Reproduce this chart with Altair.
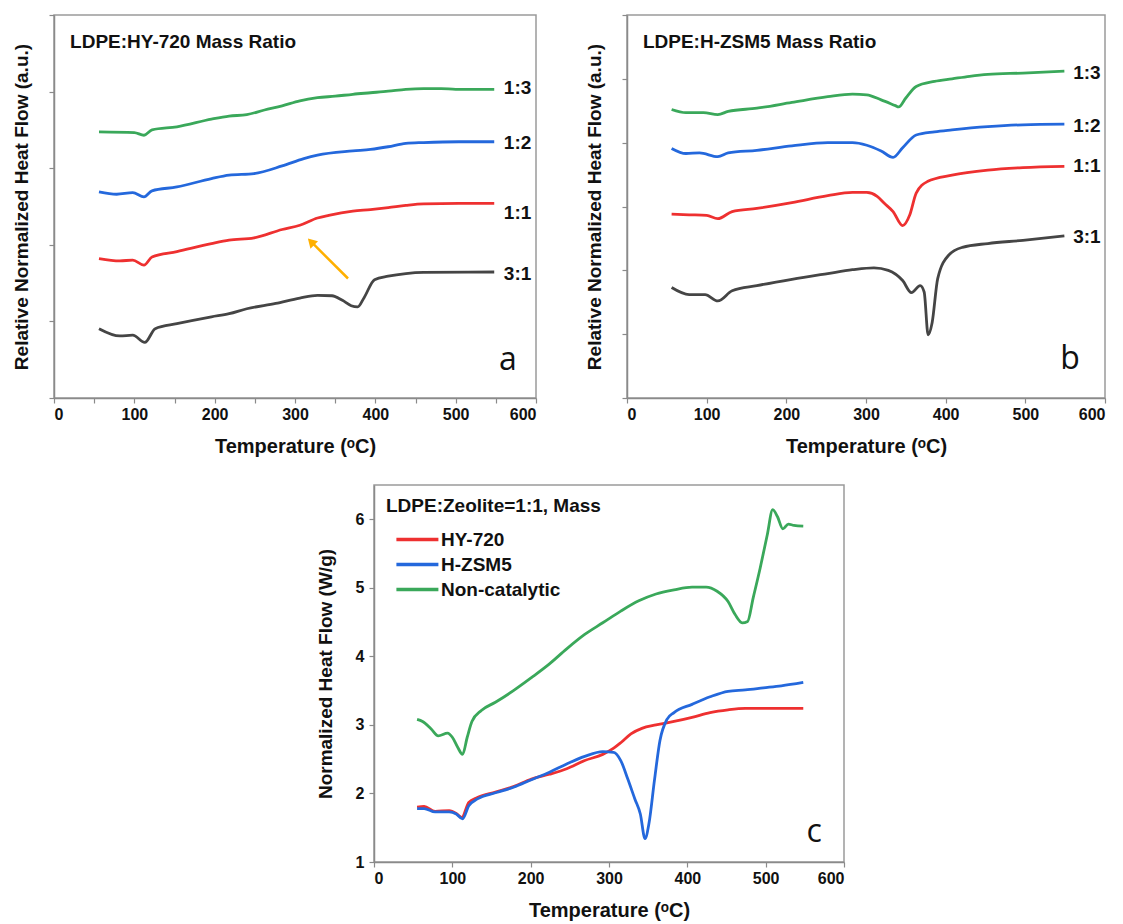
import altair as alt
import pandas as pd

FONT = "Liberation Sans"
GREEN, BLUE, RED, GRAY = "#3aa85a", "#2468dc", "#ee3030", "#454545"

# ---------------- Panel a : LDPE:HY-720 ----------------
a_green_T = [56, 100, 112, 122, 153, 196, 218, 240, 262, 284, 306, 328, 350, 372, 394, 416, 438, 460, 482, 500, 548]
a_green_v = [6.95, 6.93, 6.86, 7.00, 7.08, 7.28, 7.36, 7.40, 7.52, 7.63, 7.76, 7.84, 7.88, 7.93, 7.97, 8.01, 8.06, 8.08, 8.08, 8.06, 8.06]
a_blue_T = [56, 78, 98, 112, 122, 153, 196, 218, 249, 284, 311, 328, 372, 394, 416, 438, 460, 504, 548]
a_blue_v = [5.38, 5.32, 5.36, 5.25, 5.41, 5.51, 5.73, 5.82, 5.86, 6.06, 6.25, 6.34, 6.45, 6.49, 6.56, 6.65, 6.67, 6.69, 6.69]
a_red_T = [56, 82, 98, 112, 122, 153, 196, 218, 249, 284, 306, 328, 342, 372, 394, 416, 438, 460, 504, 548]
a_red_v = [3.64, 3.58, 3.60, 3.47, 3.68, 3.82, 4.03, 4.12, 4.18, 4.40, 4.51, 4.70, 4.77, 4.88, 4.92, 4.97, 5.03, 5.07, 5.08, 5.08]
a_black_T = [56, 82, 98, 113, 126, 153, 196, 218, 240, 276, 306, 328, 346, 359, 370, 378, 386, 399, 416, 438, 460, 548]
a_black_v = [1.81, 1.62, 1.64, 1.45, 1.81, 1.94, 2.12, 2.20, 2.33, 2.47, 2.61, 2.68, 2.67, 2.55, 2.41, 2.38, 2.62, 3.09, 3.18, 3.25, 3.28, 3.29]
a_label_v = [8.10, 6.65, 4.82, 3.25]

# ---------------- Panel b : LDPE:H-ZSM5 ----------------
b_green_T = [56, 74, 96, 114, 127, 163, 207, 252, 283, 301, 319, 337, 341, 350, 363, 386, 408, 430, 453, 497, 549]
b_green_v = [4.52, 4.47, 4.47, 4.44, 4.49, 4.54, 4.63, 4.72, 4.76, 4.75, 4.67, 4.58, 4.56, 4.70, 4.88, 4.96, 5.00, 5.04, 5.07, 5.09, 5.12]
b_blue_T = [56, 74, 91, 114, 127, 163, 207, 252, 283, 301, 319, 334, 346, 363, 386, 408, 453, 497, 549]
b_blue_v = [3.91, 3.83, 3.84, 3.78, 3.84, 3.88, 3.95, 4.00, 4.00, 3.96, 3.87, 3.77, 3.92, 4.12, 4.17, 4.20, 4.25, 4.28, 4.29]
b_red_T = [56, 78, 100, 114, 132, 163, 207, 252, 283, 301, 314, 323, 334, 346, 355, 363, 377, 408, 453, 497, 549]
b_red_v = [2.88, 2.87, 2.86, 2.81, 2.92, 2.97, 3.06, 3.17, 3.22, 3.22, 3.16, 3.05, 2.92, 2.70, 2.87, 3.21, 3.39, 3.49, 3.57, 3.61, 3.63]
b_black_T = [56, 78, 98, 114, 132, 163, 207, 252, 283, 310, 328, 346, 357, 368, 373, 378, 383, 390, 404, 421, 453, 497, 549]
b_black_v = [1.73, 1.62, 1.62, 1.52, 1.68, 1.76, 1.86, 1.95, 2.01, 2.04, 2.00, 1.84, 1.65, 1.76, 1.66, 0.99, 1.18, 1.87, 2.24, 2.36, 2.42, 2.47, 2.54]
b_label_v = [5.09, 4.26, 3.63, 2.53]

ratios = ["1:3", "1:2", "1:1", "3:1"]

# ---------------- Panel c : LDPE:Zeolite = 1:1 ----------------
c_red_T = [55, 64, 78, 96, 105, 112, 121, 132, 155, 178, 201, 224, 246, 269, 292, 306, 315, 328, 342, 360, 383, 406, 429, 452, 474, 548]
c_red_v = [1.80, 1.81, 1.74, 1.75, 1.71, 1.65, 1.87, 1.94, 2.02, 2.10, 2.21, 2.28, 2.36, 2.48, 2.57, 2.66, 2.74, 2.87, 2.95, 3.00, 3.05, 3.11, 3.18, 3.22, 3.24, 3.24]
c_blue_T = [55, 64, 78, 96, 105, 113, 121, 132, 155, 178, 201, 224, 246, 269, 292, 306, 315, 324, 333, 340, 346, 351, 358, 365, 374, 383, 406, 429, 452, 474, 497, 520, 548]
c_blue_v = [1.78, 1.78, 1.73, 1.73, 1.70, 1.63, 1.82, 1.92, 2.01, 2.09, 2.20, 2.31, 2.43, 2.54, 2.61, 2.60, 2.48, 2.21, 1.92, 1.70, 1.34, 1.56, 2.19, 2.77, 3.08, 3.18, 3.30, 3.41, 3.49, 3.51, 3.54, 3.57, 3.62]
c_green_T = [55, 62, 73, 82, 94, 100, 107, 113, 119, 125, 137, 155, 178, 201, 224, 246, 269, 292, 315, 338, 360, 383, 406, 424, 438, 452, 461, 470, 477, 484, 493, 502, 509, 515, 522, 529, 536, 548]
c_green_v = [3.08, 3.05, 2.94, 2.84, 2.88, 2.82, 2.67, 2.57, 2.82, 3.05, 3.21, 3.33, 3.50, 3.69, 3.89, 4.11, 4.32, 4.49, 4.66, 4.81, 4.91, 4.97, 5.01, 5.01, 4.95, 4.80, 4.61, 4.49, 4.51, 4.85, 5.29, 5.77, 6.14, 6.04, 5.86, 5.93, 5.91, 5.90]
c_series = ["HY-720", "H-ZSM5", "Non-catalytic"]

# annotation arrow in panel a (temperature, value)
arrow_start = (366, 3.12)
arrow_end = (320, 4.08)


def long_df(pairs, names):
    rows = []
    for name, (T, v) in zip(names, pairs):
        for t, val in zip(T, v):
            rows.append({"T": t, "v": val, "s": name})
    return pd.DataFrame(rows)


x_axis = alt.Axis(
    values=list(range(0, 601, 50)),
    labelExpr="datum.value % 100 == 0 ? datum.label : ''",
    labelOverlap=False, grid=False, tickSize=5, tickWidth=1.2,
    domainColor="#8a8a8a", tickColor="#8a8a8a", domainWidth=1.5,
    labelFont=FONT, labelFontSize=16, labelFontWeight="bold", labelColor="#111",
    labelPadding=3, titleFont=FONT, titleFontSize=20, titleFontWeight="bold",
    titleColor="#111", titlePadding=14, title="Temperature (ᵒC)",
)


def y_axis_blank(vals):
    return alt.Axis(
        values=vals, labels=False, grid=False, tickSize=5, tickWidth=1.2,
        domainColor="#8a8a8a", tickColor="#8a8a8a", domainWidth=1.5,
        titleFont=FONT, titleFontSize=19, titleFontWeight="bold", titleColor="#111",
        titlePadding=17, title="Relative Normalized Heat Flow (a.u.)",
    )


frame = alt.ViewBackground(stroke="#9a9a9a", strokeWidth=1.5)


def ratio_panel(pairs, label_vals, ymax, title, letter, letter_T, letter_v, title_v):
    df = long_df(pairs, ratios)
    xs = alt.Scale(domain=[0, 600], nice=False)
    ys = alt.Scale(domain=[0, ymax], nice=False)
    lines = alt.Chart(df).mark_line(strokeWidth=2.8, interpolate="monotone").encode(
        x=alt.X("T:Q", scale=xs, axis=x_axis),
        y=alt.Y("v:Q", scale=ys, axis=y_axis_blank(list(range(0, ymax + 1)))),
        color=alt.Color("s:N", scale=alt.Scale(domain=ratios, range=[GREEN, BLUE, RED, GRAY]), legend=None),
        detail="s:N",
    )
    lab = pd.DataFrame({"T": [560] * 4, "v": label_vals, "s": ratios})
    labels = alt.Chart(lab).mark_text(align="left", baseline="middle", font=FONT, fontSize=19,
                                      fontWeight="bold", color="#111").encode(
        x=alt.X("T:Q", scale=xs), y=alt.Y("v:Q", scale=ys), text="s:N")
    ttl = alt.Chart(pd.DataFrame({"T": [20], "v": [title_v], "t": [title]})).mark_text(
        align="left", baseline="middle", font=FONT, fontSize=19, fontWeight="bold", color="#111").encode(
        x=alt.X("T:Q", scale=xs), y=alt.Y("v:Q", scale=ys), text="t:N")
    let = alt.Chart(pd.DataFrame({"T": [letter_T], "v": [letter_v], "t": [letter]})).mark_text(
        align="center", baseline="middle", font="Open Sans", fontSize=32, color="#111").encode(
        x=alt.X("T:Q", scale=xs), y=alt.Y("v:Q", scale=ys), text="t:N")
    return [lines, labels, ttl, let], xs, ys


a_layers, axs, ays = ratio_panel(
    [(a_green_T, a_green_v), (a_blue_T, a_blue_v), (a_red_T, a_red_v), (a_black_T, a_black_v)],
    a_label_v, 10, "LDPE:HY-720 Mass Ratio", "a", 565, 0.98, 9.3)

arrow_df = pd.DataFrame({"T": [arrow_start[0]], "v": [arrow_start[1]],
                         "T2": [arrow_end[0]], "v2": [arrow_end[1]]})
arrow_line = alt.Chart(arrow_df).mark_rule(color="#ffb000", strokeWidth=2.5).encode(
    x=alt.X("T:Q", scale=axs), y=alt.Y("v:Q", scale=ays), x2="T2:Q", y2="v2:Q")
arrow_head = alt.Chart(arrow_df).mark_point(shape="triangle-up", filled=True, color="#ffb000",
                                            size=110, angle=316, opacity=1).encode(
    x=alt.X("T2:Q", scale=axs), y=alt.Y("v2:Q", scale=ays))

panel_a = alt.layer(*a_layers, arrow_line, arrow_head).properties(width=482, height=383, view=frame)

b_layers, _, _ = ratio_panel(
    [(b_green_T, b_green_v), (b_blue_T, b_blue_v), (b_red_T, b_red_v), (b_black_T, b_black_v)],
    b_label_v, 6, "LDPE:H-ZSM5 Mass Ratio", "b", 556, 0.61, 5.58)
panel_b = alt.layer(*b_layers).properties(width=478, height=383, view=frame)

# ---------------- Panel c ----------------
cdf = long_df([(c_red_T, c_red_v), (c_blue_T, c_blue_v), (c_green_T, c_green_v)], c_series)
cxs = alt.Scale(domain=[0, 600], nice=False)
cys = alt.Scale(domain=[1, 6.5], nice=False)
c_y_axis = alt.Axis(
    values=[1 + 0.5 * i for i in range(12)],
    labelExpr="datum.value % 1 == 0 ? format(datum.value, 'd') : ''",
    labelOverlap=False, grid=False, tickSize=5, tickWidth=1.2,
    domainColor="#8a8a8a", tickColor="#8a8a8a", domainWidth=1.5,
    labelFont=FONT, labelFontSize=16, labelFontWeight="bold", labelColor="#111", labelPadding=5,
    titleFont=FONT, titleFontSize=19, titleFontWeight="bold", titleColor="#111",
    titlePadding=20, title="Normalized Heat Flow (W/g)",
)
c_lines = alt.Chart(cdf).mark_line(strokeWidth=2.8, interpolate="monotone").encode(
    x=alt.X("T:Q", scale=cxs, axis=x_axis),
    y=alt.Y("v:Q", scale=cys, axis=c_y_axis),
    color=alt.Color("s:N", scale=alt.Scale(domain=c_series, range=[RED, BLUE, GREEN]),
                    sort=c_series,
                    legend=alt.Legend(
                        title="LDPE:Zeolite=1:1, Mass", orient="top-left", offset=12,
                        titleFont=FONT, titleFontSize=19, titleFontWeight="bold", titleColor="#111",
                        titleLimit=400, titlePadding=11,
                        labelFont=FONT, labelFontSize=19, labelFontWeight="bold", labelColor="#111",
                        labelOffset=30, symbolType="M-0.2,0H3.8", symbolSize=441,
                        symbolStrokeWidth=3.5, rowPadding=2, padding=0)),
)
c_letter = alt.Chart(pd.DataFrame({"T": [562], "v": [1.44], "t": ["c"]})).mark_text(
    align="center", baseline="middle", font="Open Sans", fontSize=32, color="#111").encode(
    x=alt.X("T:Q", scale=cxs), y=alt.Y("v:Q", scale=cys), text="t:N")
panel_c = alt.layer(c_lines, c_letter).properties(width=470, height=377, view=frame)

spacer = alt.Chart(pd.DataFrame({"x": [0], "y": [0]})).mark_point(opacity=0).encode(
    x=alt.X("x:Q", axis=None), y=alt.Y("y:Q", axis=None)
).properties(width=261, height=10, view=alt.ViewBackground(strokeWidth=0))

top = alt.hconcat(panel_a, panel_b, spacing=46).resolve_scale(color="independent")
bottom = alt.hconcat(spacer, panel_c, spacing=0).resolve_scale(color="independent")
chart = alt.vconcat(top, bottom, spacing=27).resolve_scale(color="independent").configure_view(
    strokeWidth=0).configure(background="white").properties(
    padding={"left": 3, "top": 5, "right": 0, "bottom": 0})

chart.save("out.html", embed_options={"renderer": "svg", "actions": False})
